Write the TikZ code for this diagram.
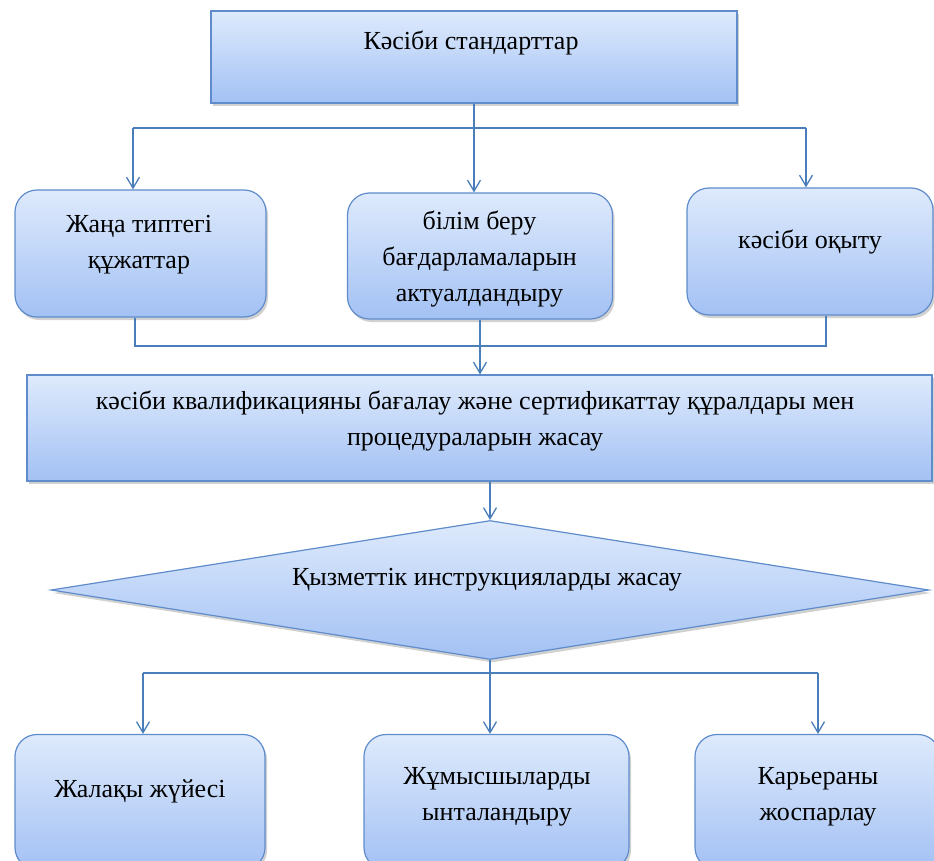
\documentclass[tikz,border=0pt]{standalone}
\usepackage{fontspec}
\setmainfont{Liberation Serif}
\usetikzlibrary{positioning,shapes.geometric,shadows,arrows.meta}
\definecolor{lineblue}{HTML}{4A7EBB}
\definecolor{edgeblue}{HTML}{5F8CCB}
\definecolor{filltop}{HTML}{DEEAFC}
\definecolor{fillbot}{HTML}{A3C1F4}
\begin{document}
\begin{tikzpicture}[
        x=1pt,y=-1pt,
        flowbox/.style={
          draw=edgeblue,
          line width=1.2pt,
          top color=filltop,
          bottom color=fillbot,
          inner sep=0pt,
          drop shadow={shadow xshift=2pt,shadow yshift=-3pt,opacity=.3,fill=black!60}
          },
        roundbox/.style={
          flowbox,
          rounded corners=22pt
          },
        decision/.style={
          flowbox,
          diamond
          },
        lbl/.style={
          align=center,
          inner sep=0pt,
          font=\fontsize{26}{36}\selectfont
          },
        link/.style={
          draw=lineblue,
          line width=1.3pt
          },
        >={Straight Barb[length=11pt,width=13pt]}
        ]
        \useasboundingbox (0,0) rectangle (934,861);
        % boxes
        \node[flowbox, minimum width=526pt, minimum height=92pt] (std) at (474,57) {};
        \node[roundbox, minimum width=251pt, minimum height=127pt] (docs) at (140.5,253.5) {};
        \node[roundbox, minimum width=265pt, minimum height=126pt] (prog) at (480,256) {};
        \node[roundbox, minimum width=246pt, minimum height=127pt] (train) at (810,251.5) {};
        \node[flowbox, minimum width=905pt, minimum height=106pt] (qual) at (479.5,428) {};
        \node[decision, minimum width=878pt, minimum height=139pt] (instr) at (490,590) {};
        \node[roundbox, minimum width=250pt, minimum height=135pt] (wage) at (140,802) {};
        \node[roundbox, minimum width=265pt, minimum height=135pt] (motiv) at (496.5,802) {};
        \node[roundbox, minimum width=245pt, minimum height=135pt] (career) at (817.5,802) {};
        % texts
        \node[lbl] (stdT) at (471,43) {Кәсіби стандарттар};
        \node[lbl] (docsT) at (139,245) {Жаңа типтегі\\құжаттар};
        \node[lbl] (progT) at (479.5,259) {білім беру\\бағдарламаларын\\актуалдандыру};
        \node[lbl] (trainT) at (810,242) {кәсіби оқыту};
        \node[lbl] (qualT) at (475,421) {кәсіби квалификацияны бағалау және сертификаттау құралдары мен\\процедураларын жасау};
        \node[lbl] (instrT) at (487,580) {Қызметтік инструкцияларды жасау};
        \node[lbl] (wageT) at (140,791) {Жалақы жүйесі};
        \node[lbl] (motivT) at (497,797) {Жұмысшыларды\\ынталандыру};
        \node[lbl] (careerT) at (818,797) {Карьераны\\жоспарлау};
        % connectors
        \coordinate (s1) at (133,128);
        \coordinate (s2) at (806,128);
        \coordinate (sm) at (474,128);
        \draw[link] (std.south) -- (sm);
        \draw[link] (s1) -- (s2);
        \draw[link,->] (s1) -- (s1 |- docs.north);
        \draw[link,->] (sm) -- (sm |- prog.north);
        \draw[link,->] (s2) -- (s2 |- train.north);
        \coordinate (m1) at (135,346);
        \coordinate (m2) at (826,346);
        \draw[link] (m1 |- docs.south) -- (m1) -- (m2) -- (m2 |- train.south);
        \draw[link,->] (prog.south) -- (prog.south |- qual.north);
        \draw[link,->] (qual.south -| instr.north) -- (instr.north);
        \coordinate (b1) at (143,673);
        \coordinate (b2) at (818,673);
        \coordinate (bm) at (490,673);
        \draw[link] (instr.south) -- (bm);
        \draw[link] (b1) -- (b2);
        \draw[link,->] (b1) -- (b1 |- wage.north);
        \draw[link,->] (bm) -- (bm |- motiv.north);
        \draw[link,->] (b2) -- (b2 |- career.north);
\end{tikzpicture}
\end{document}
